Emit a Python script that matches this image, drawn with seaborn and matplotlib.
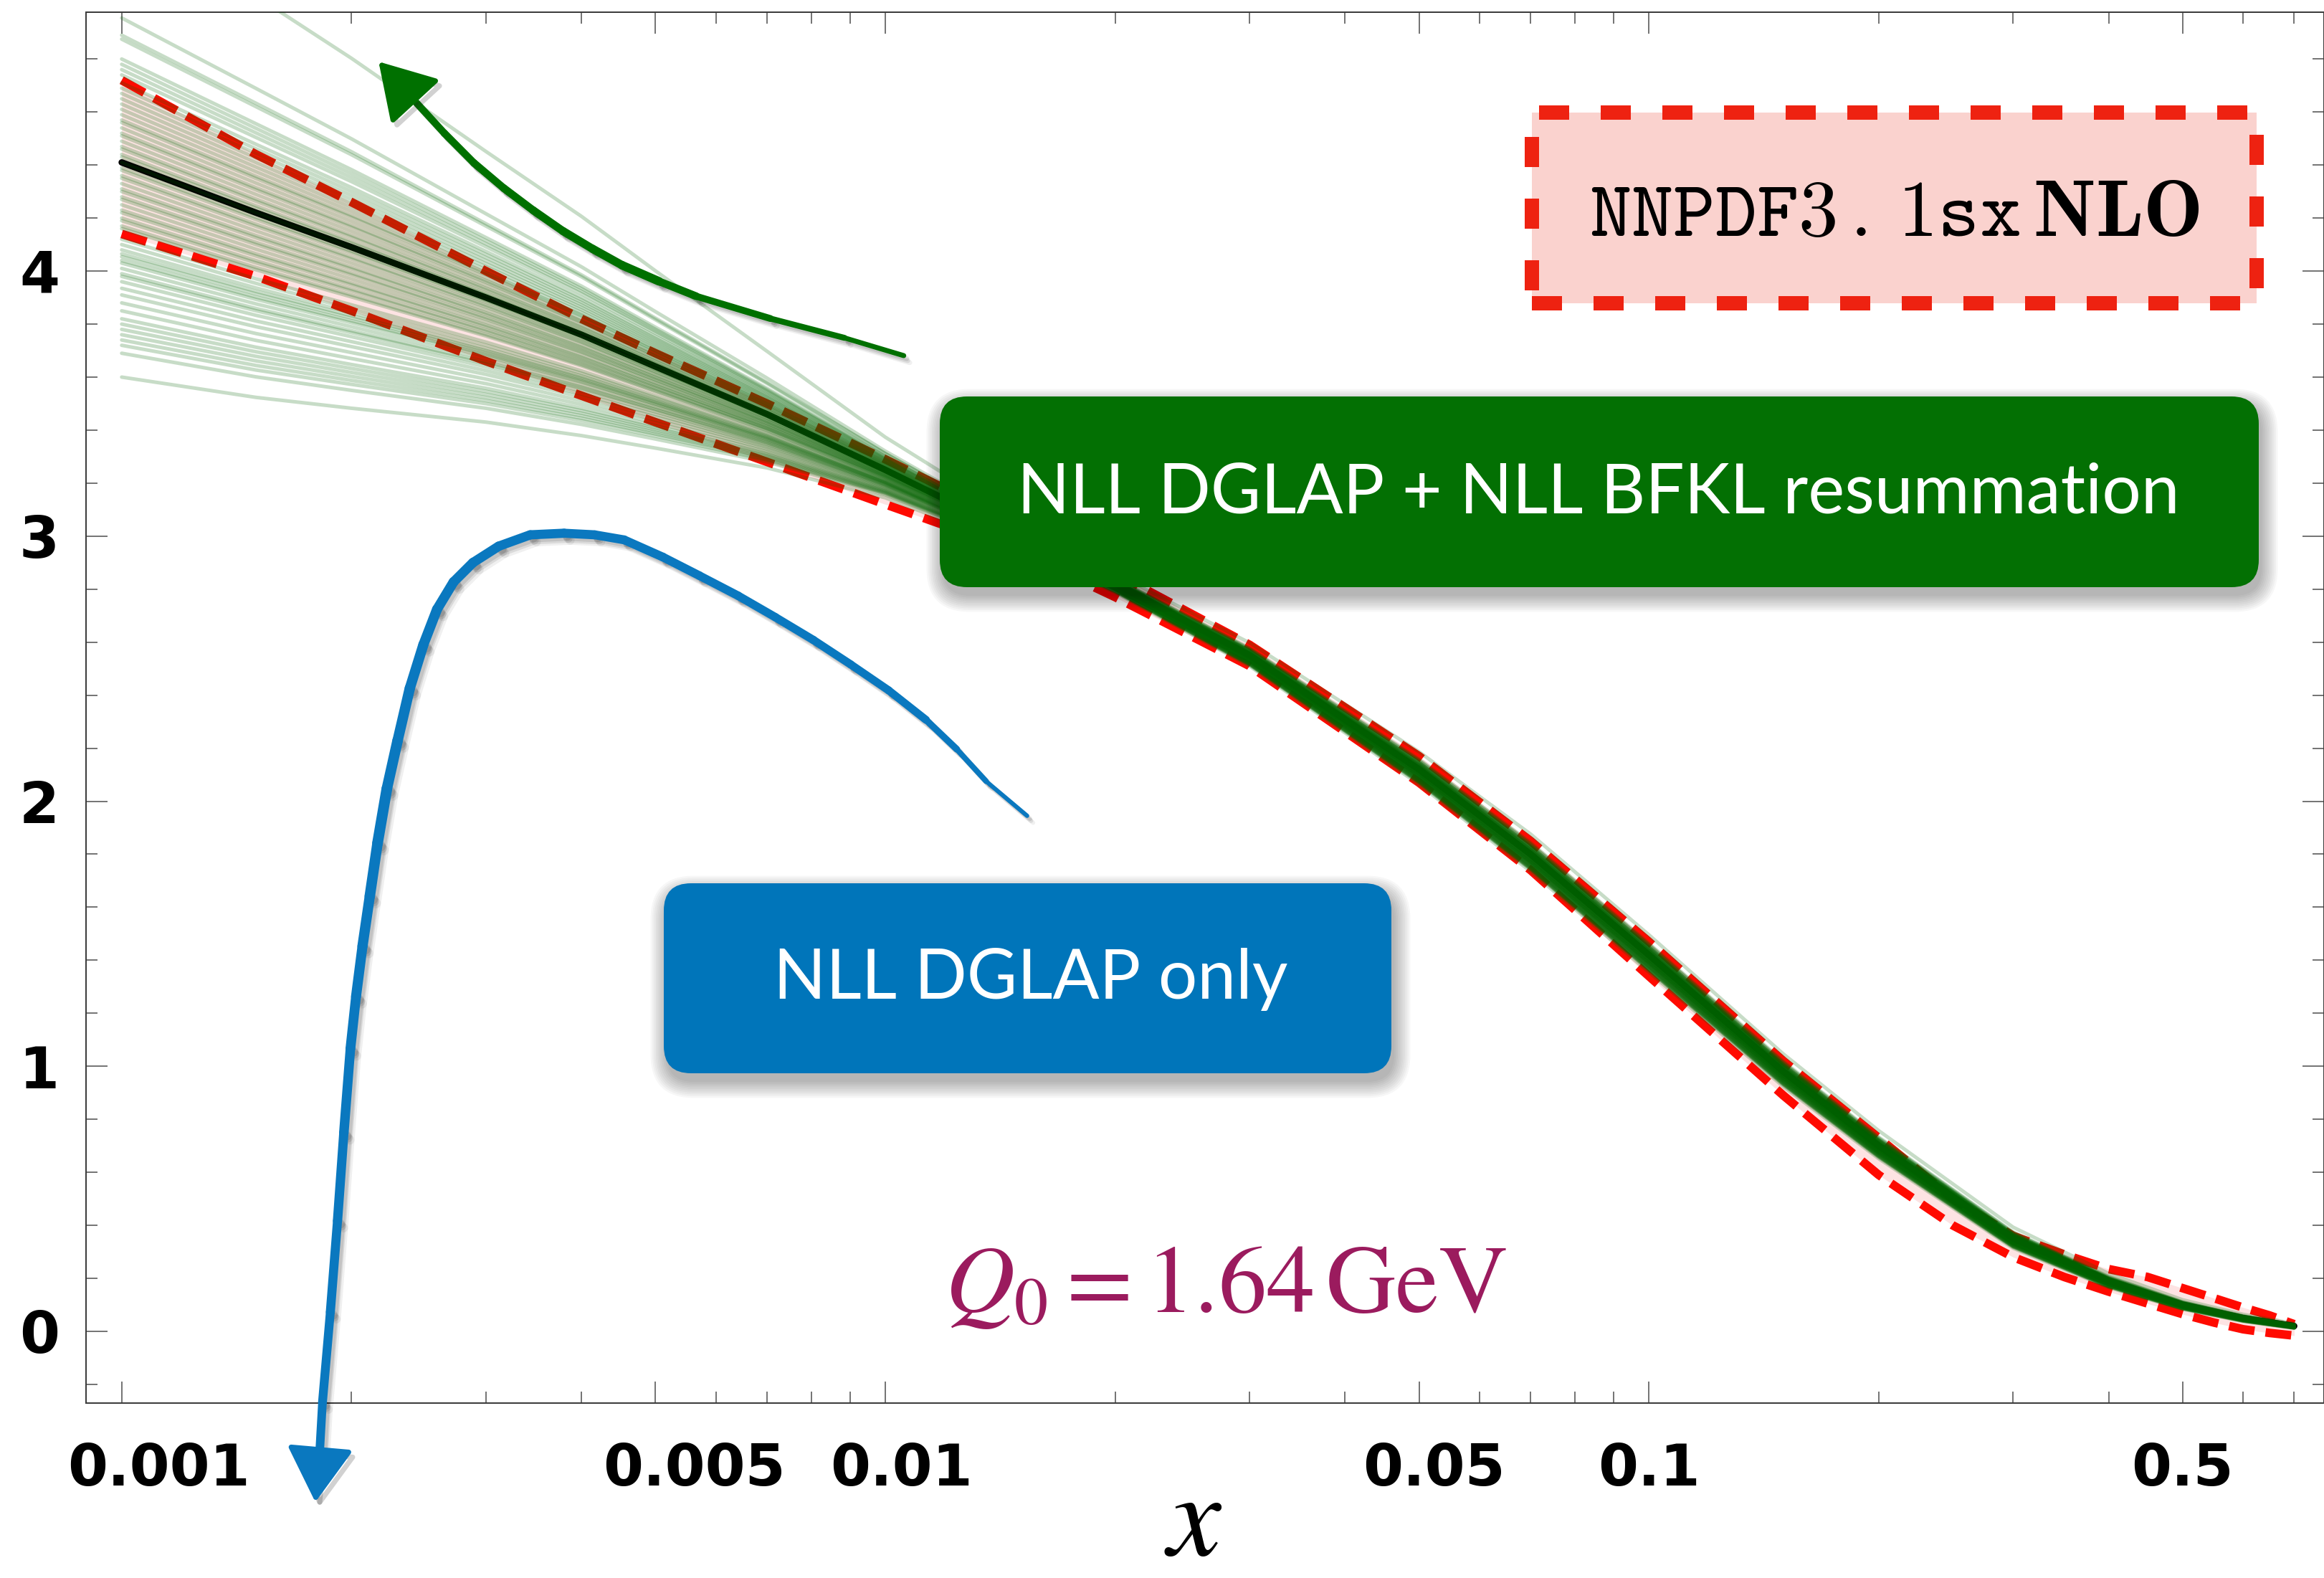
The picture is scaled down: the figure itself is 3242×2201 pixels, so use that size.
import numpy as np
import pandas as pd
import matplotlib
matplotlib.use("Agg")
import matplotlib.pyplot as plt
import seaborn as sns
from matplotlib.patches import FancyBboxPatch
from matplotlib.collections import LineCollection
from matplotlib import patheffects as pe
from matplotlib.transforms import IdentityTransform, ScaledTranslation
from matplotlib.ticker import FixedLocator, FixedFormatter, NullFormatter, MultipleLocator

# ---------------- data ----------------
# common x grid of the central gluon curve and of the replica fan
x_nodes = [0.001, 0.0015, 0.002, 0.003, 0.004, 0.005, 0.007, 0.01, 0.015, 0.02,
           0.03, 0.05, 0.07, 0.1, 0.15, 0.2, 0.3, 0.4, 0.5, 0.6, 0.7]
central_fit = [4.41, 4.22, 4.09, 3.90, 3.76, 3.64, 3.46, 3.25, 3.00, 2.82,
               2.55, 2.12, 1.80, 1.42, 0.98, 0.70, 0.35, 0.19, 0.10, 0.05, 0.02]

# NNPDF3.1sx NLO one-sigma band
band_x = [0.001, 0.0015, 0.002, 0.003, 0.004, 0.005, 0.007, 0.01, 0.015, 0.02,
          0.03, 0.05, 0.07, 0.1, 0.15, 0.2, 0.25, 0.3, 0.35, 0.4, 0.45, 0.5,
          0.55, 0.6, 0.65, 0.7]
band_upper = [4.72, 4.44, 4.26, 4.00, 3.82, 3.69, 3.50, 3.29, 3.04, 2.86,
              2.59, 2.17, 1.85, 1.47, 1.02, 0.73, 0.50, 0.36, 0.29, 0.235,
              0.205, 0.163, 0.125, 0.09, 0.06, 0.027]
band_lower = [4.14, 3.98, 3.85, 3.66, 3.53, 3.43, 3.28, 3.12, 2.94, 2.77,
              2.51, 2.07, 1.74, 1.34, 0.89, 0.59, 0.40, 0.28, 0.205, 0.15,
              0.105, 0.065, 0.033, 0.008, -0.006, -0.016]

# replica values at x = 0.001 and how their spread shrinks along x_nodes
replica_start = [5.36, 4.955, 4.89, 4.875, 4.80, 4.78, 4.76, 4.74,
                 4.71, 4.69, 4.67, 4.65, 4.63, 4.61, 4.59, 4.57, 4.56, 4.54,
                 4.52, 4.51, 4.49, 4.47, 4.46, 4.44, 4.43, 4.41, 4.39, 4.38,
                 4.36, 4.35, 4.33, 4.31, 4.30, 4.28, 4.27, 4.25, 4.23, 4.22,
                 4.20, 4.19, 4.17, 4.16,
                 4.12, 4.10, 4.08, 4.065, 4.054, 4.04, 4.03, 4.01, 3.99, 3.98,
                 3.96, 3.935, 3.91, 3.88, 3.85, 3.82, 3.80, 3.78, 3.76, 3.74,
                 3.72, 3.69, 3.60]
replica_fan = [1.0, 0.86, 0.75, 0.58, 0.47, 0.38, 0.25, 0.13, 0.06, 0.04,
               0.05, 0.07, 0.08, 0.08, 0.07, 0.06, 0.045, 0.03, 0.02, 0.015, 0.01]

# hand-drawn annotation arrows (shaft from tail to head, then the tip)
blue_path_x = [0.015336, 0.013557, 0.012407, 0.011306, 0.010104, 0.009009, 0.008053,
               0.007180, 0.006417, 0.005708, 0.005114, 0.004550, 0.004164, 0.003796,
               0.003428, 0.003117, 0.002884, 0.002720, 0.002588, 0.002484, 0.002384,
               0.002298, 0.002225, 0.002163, 0.002113, 0.002067, 0.002027, 0.001993,
               0.001954, 0.001917, 0.001876, 0.001832, 0.001816]
blue_path_y = [1.945, 2.075, 2.196, 2.307, 2.418, 2.516, 2.608,
               2.694, 2.775, 2.851, 2.921, 2.986, 3.005, 3.011,
               3.005, 2.962, 2.900, 2.827, 2.724, 2.591, 2.426,
               2.229, 2.048, 1.842, 1.642, 1.453, 1.263, 1.066,
               0.749, 0.417, 0.073, -0.268, -0.462]
blue_tip = (0.001793, -0.644)

green_path_x = [0.010572, 0.008843, 0.007070, 0.005655, 0.005057, 0.004522, 0.004136,
                0.003783, 0.003459, 0.003164, 0.002892, 0.002646, 0.002398]
green_path_y = [3.681, 3.748, 3.821, 3.905, 3.961, 4.022, 4.084,
                4.151, 4.229, 4.313, 4.408, 4.520, 4.654]
green_tip = (0.00217, 4.79)

x_ticks = [0.001, 0.005, 0.01, 0.05, 0.1, 0.5]
x_tick_labels = ["0.001", "0.005", "0.01", "0.05", "0.1", "0.5"]
x_minor = [0.002, 0.003, 0.004, 0.006, 0.007, 0.008, 0.009,
           0.02, 0.03, 0.04, 0.06, 0.07, 0.08, 0.09,
           0.2, 0.3, 0.4, 0.6, 0.7]
y_ticks = [0, 1, 2, 3, 4]

# ---------------- figure ----------------
W, H, DPI = 3242, 2201, 100
PX = 72.0 / DPI  # points per pixel

sns.set_theme(style="ticks")
plt.rcParams["font.family"] = ["DejaVu Sans"]

fig = plt.figure(figsize=(W / DPI, H / DPI), dpi=DPI)
fig.patch.set_facecolor("white")
ax_l, ax_r, ax_t, ax_b = 120, 3241.5, 16.5, 1957
ax = fig.add_axes([ax_l / W, 1 - ax_b / H, (ax_r - ax_l) / W, (ax_b - ax_t) / H])
ax.set_xscale("log")
ax.set_xlim(0.000898, 0.765)
ax.set_ylim(-0.2705, 4.978)
ax.set_facecolor("white")

# pink band
ax.fill_between(band_x, band_lower, band_upper, color="#fde3e3", lw=0, zorder=1)

# band edges
for yb in (band_upper, band_lower):
    sns.lineplot(x=band_x, y=yb, ax=ax, color="#ff0a00", lw=12 * PX,
                 linestyle=(0, (3.0, 1.3)), zorder=2, legend=False)

# central curve
sns.lineplot(x=x_nodes, y=central_fit, ax=ax, color="black", lw=9 * PX,
             zorder=3, legend=False)

# replicas
xn = np.array(x_nodes)
cen = np.array(central_fit)
fan = np.array(replica_fan)
frames = []
for i, s in enumerate(replica_start):
    frames.append(pd.DataFrame({"x": xn, "g": cen + (s - cen[0]) * fan, "rep": i}))
reps = pd.concat(frames, ignore_index=True)
sns.lineplot(data=reps, x="x", y="g", units="rep", estimator=None, ax=ax,
             color="#006400", alpha=0.22, lw=5 * PX, zorder=4, legend=False)

# ---------------- axes styling ----------------
for sp in ax.spines.values():
    sp.set_visible(True)
    sp.set_color("#3c3c3c")
    sp.set_linewidth(2 * PX)
ax.xaxis.set_major_locator(FixedLocator(x_ticks))
ax.xaxis.set_major_formatter(FixedFormatter(x_tick_labels))
ax.xaxis.set_minor_locator(FixedLocator(x_minor))
ax.xaxis.set_minor_formatter(NullFormatter())
ax.yaxis.set_major_locator(FixedLocator(y_ticks))
ax.yaxis.set_minor_locator(MultipleLocator(0.2))
ax.tick_params(which="both", direction="in", top=True, right=True,
               color="#555555", width=1.6 * PX)
ax.tick_params(which="major", length=30 * PX)
ax.tick_params(which="minor", length=16 * PX)
ax.tick_params(axis="x", which="major", pad=54 * PX)
ax.tick_params(axis="y", which="major", pad=37 * PX)
for lab in ax.get_xticklabels() + ax.get_yticklabels():
    lab.set_fontfamily("DejaVu Sans")
    lab.set_fontweight("bold")
    lab.set_fontsize(58)
    lab.set_color("black")
# the x labels sit slightly right of their ticks
x_label_shift_px = [52, 54, 22, 21, 0, 0]
for lab, dx in zip(ax.get_xticklabels(), x_label_shift_px):
    lab.set_transform(lab.get_transform() + ScaledTranslation(dx / DPI, 0, fig.dpi_scale_trans))
ax.set_xlabel("")
ax.set_ylabel("")


# ---------------- arrows ----------------
def brush(xs, ys, widths_px, color, z):
    pts = np.column_stack([xs, ys])
    segs = np.stack([pts[:-1], pts[1:]], axis=1)
    lc = LineCollection(segs, colors=color, linewidths=np.asarray(widths_px) * PX,
                        capstyle="round", joinstyle="round", zorder=z, clip_on=False)
    lc.set_path_effects([
        pe.SimpleLineShadow(offset=(6, -7), shadow_color="black", alpha=0.06),
        pe.SimpleLineShadow(offset=(4, -5), shadow_color="black", alpha=0.09),
        pe.SimpleLineShadow(offset=(3, -3), shadow_color="black", alpha=0.10),
        pe.Normal()])
    ax.add_collection(lc)


def head(tip, base, color):
    ax.annotate("", xy=tip, xytext=base,
                arrowprops=dict(arrowstyle="-|>,head_length=2.4,head_width=1.45",
                                color=color, lw=7 * PX, mutation_scale=20,
                                shrinkA=0, shrinkB=0,
                                path_effects=[pe.SimpleLineShadow(offset=(4, -5), alpha=0.2),
                                              pe.Normal()]),
                annotation_clip=False, zorder=6)


blue_c = "#0a78bf"
n_b = len(blue_path_x) - 1
blue_w = np.interp(np.arange(n_b), [0, 3, 14, 22, n_b - 1], [6, 11, 13, 15, 12])
brush(blue_path_x, blue_path_y, blue_w, blue_c, 6)
head(blue_tip, (blue_path_x[-1], blue_path_y[-1]), blue_c)

green_c = "#007000"
n_g = len(green_path_x) - 1
green_w = np.interp(np.arange(n_g), [0, 4, n_g - 1], [7, 12, 10])
brush(green_path_x, green_path_y, green_w, green_c, 6)
head(green_tip, (green_path_x[-1], green_path_y[-1]), green_c)


# ---------------- boxes and labels ----------------
def box(x0, y0, x1, y1, face, radius, z, shadow=True, **kw):
    if shadow:
        for k in range(10):
            g = 2.5 * k
            s = FancyBboxPatch((x0 + 4 - g, H - y1 - 12 - g), x1 - x0 + 2 * g, y1 - y0 + 2 * g,
                               boxstyle=f"round,pad=0,rounding_size={radius + g}",
                               transform=IdentityTransform(), facecolor="black",
                               edgecolor="none", alpha=0.03, zorder=z - 0.5)
            fig.add_artist(s)
    b = FancyBboxPatch((x0, H - y1), x1 - x0, y1 - y0,
                       boxstyle=f"round,pad=0,rounding_size={radius}",
                       transform=IdentityTransform(), facecolor=face, zorder=z, **kw)
    fig.add_artist(b)
    return b


renderer = fig.canvas.get_renderer()


def label(text, xc, baseline_top, width, ha="center", **kw):
    t = fig.text(xc / W, 1 - baseline_top / H, text, ha=ha, va="baseline", zorder=20, **kw)
    w = t.get_window_extent(renderer).width
    t.set_fontsize(t.get_fontsize() * width / w)
    return t


box(1311, 553, 3151, 819, "#037003", 38, 10, edgecolor="none")
label("NLL DGLAP + NLL BFKL resummation", 2230, 715, 1624,
      color="white", fontfamily="Lato", fontweight="normal", fontsize=70)

box(926, 1232, 1941, 1497, "#0075ba", 38, 10, edgecolor="none")
label("NLL DGLAP only", 1438, 1393, 718,
      color="white", fontfamily="Lato", fontweight="normal", fontsize=70)

box(2137, 157, 3148, 423, "#fad2ce", 0, 10, shadow=False, edgecolor="#ee2211",
    linewidth=20 * PX, linestyle=(0, (2.1, 2.2)))
label(r"$\mathtt{NNPDF3}\,\mathtt{.}\,\mathtt{1sx}\,\mathbf{NLO}$", 2643, 329, 852,
      color="black", math_fontfamily="cm", fontsize=80)

label(r"$Q_0 = 1.64\,\mathrm{GeV}$", 1318, 1830, 784, ha="left",
      color="#9b1b5e", math_fontfamily="stix", fontsize=98)

fig.text(1665 / W, 1 - 2170 / H, r"$x$", ha="center", va="baseline",
         math_fontfamily="stix", fontsize=121, color="black")

fig.savefig("out.png", dpi=DPI, facecolor="white")
